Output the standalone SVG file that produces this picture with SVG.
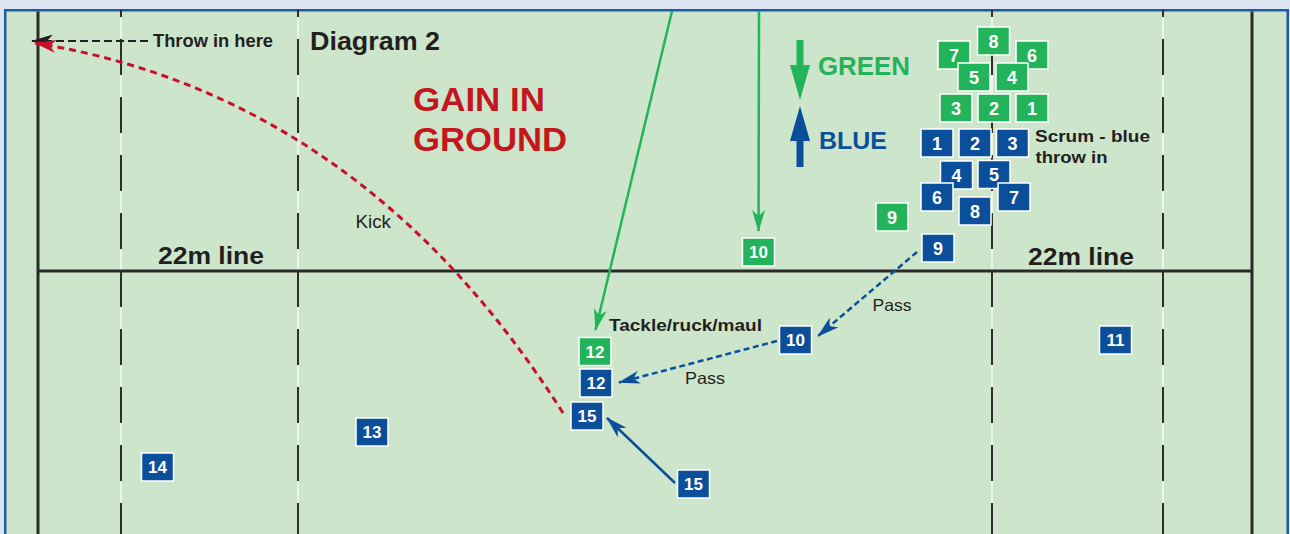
<svg xmlns="http://www.w3.org/2000/svg" width="1290" height="534" viewBox="0 0 1290 534">
<defs>
<style>
.t{font-family:"Liberation Sans",Arial,sans-serif;font-weight:bold;fill:#231f20}
.r{font-family:"Liberation Sans",Arial,sans-serif;font-weight:normal;fill:#231f20}
.num{font-family:"Liberation Sans",Arial,sans-serif;font-weight:bold;fill:#fff;text-anchor:middle;font-size:18px}
.num2{font-family:"Liberation Sans",Arial,sans-serif;font-weight:bold;fill:#fff;text-anchor:middle;font-size:17px}
.gb{fill:#23b35a;stroke:#fff;stroke-width:1.5}
.bb{fill:#0b4f9b;stroke:#fff;stroke-width:1.5}
.wl{stroke:#fff;stroke-width:1.2}
.dl{stroke:#2e2e2e;stroke-width:2;stroke-dasharray:36 22;stroke-dashoffset:29}
.solid{stroke:#2a2a2a;stroke-width:3}
</style>
<marker id="ahG" viewBox="0 0 22 13" refX="21" refY="6.5" markerWidth="22" markerHeight="13" markerUnits="userSpaceOnUse" orient="auto"><path d="M0,0 L22,6.5 L0,13 L6,6.5 Z" fill="#23b35a"/></marker>
<marker id="ahB" viewBox="0 0 22 13" refX="21" refY="6.5" markerWidth="22" markerHeight="13" markerUnits="userSpaceOnUse" orient="auto"><path d="M0,0 L22,6.5 L0,13 L6,6.5 Z" fill="#0b4f9b"/></marker>
<marker id="ahR" viewBox="0 0 22 13" refX="21" refY="6.5" markerWidth="22" markerHeight="13" markerUnits="userSpaceOnUse" orient="auto"><path d="M0,0 L22,6.5 L0,13 L6,6.5 Z" fill="#c8102e"/></marker>
<marker id="ahK" viewBox="0 0 22 13" refX="21" refY="6.5" markerWidth="22" markerHeight="13" markerUnits="userSpaceOnUse" orient="auto"><path d="M0,0 L22,6.5 L0,13 L6,6.5 Z" fill="#231f20"/></marker>
</defs>

<rect x="0" y="0" width="1290" height="534" fill="#dde4f2"/>
<rect x="5.25" y="10.25" width="1282.5" height="540" fill="#cde6cb" stroke="#1a5ca6" stroke-width="2.5"/>

<g id="field-lines">
<line class="wl" x1="121" y1="11.5" x2="121" y2="534"/>
<line class="wl" x1="298" y1="11.5" x2="298" y2="534"/>
<line class="wl" x1="992" y1="11.5" x2="992" y2="534"/>
<line class="wl" x1="1163" y1="11.5" x2="1163" y2="534"/>
<line class="dl" x1="121" y1="10" x2="121" y2="534"/>
<line class="dl" x1="298" y1="10" x2="298" y2="534"/>
<line class="dl" x1="992" y1="10" x2="992" y2="534"/>
<line class="dl" x1="1163" y1="10" x2="1163" y2="534"/>
<line class="solid" x1="38" y1="11.5" x2="38" y2="534"/>
<line class="solid" x1="1252" y1="11.5" x2="1252" y2="534"/>
<line class="solid" x1="38" y1="271" x2="1252" y2="271"/>
</g>

<g id="labels">
<text class="t" x="158" y="264" font-size="24" textLength="106" lengthAdjust="spacingAndGlyphs">22m line</text>
<text class="t" x="1028" y="265" font-size="24" textLength="106" lengthAdjust="spacingAndGlyphs">22m line</text>
<text class="t" x="153" y="47" font-size="18" textLength="120" lengthAdjust="spacingAndGlyphs">Throw in here</text>
<text class="t" x="310" y="50" font-size="25.5" textLength="130" lengthAdjust="spacingAndGlyphs">Diagram 2</text>
<text class="t" x="413" y="111" font-size="34" fill="#c4161c" style="fill:#c4161c" textLength="132" lengthAdjust="spacingAndGlyphs">GAIN IN</text>
<text class="t" x="413" y="151" font-size="34" style="fill:#c4161c" textLength="154" lengthAdjust="spacingAndGlyphs">GROUND</text>
<text class="t" x="818" y="75" font-size="25.5" style="fill:#23b35a" textLength="92" lengthAdjust="spacingAndGlyphs">GREEN</text>
<text class="t" x="819" y="149" font-size="24.5" style="fill:#0b4f9b" textLength="68" lengthAdjust="spacingAndGlyphs">BLUE</text>
<text class="t" x="1035" y="142" font-size="17" textLength="115" lengthAdjust="spacingAndGlyphs">Scrum - blue</text>
<text class="t" x="1035.5" y="163" font-size="17" textLength="72" lengthAdjust="spacingAndGlyphs">throw in</text>
<text class="r" x="355.5" y="228" font-size="18.5" textLength="35.5" lengthAdjust="spacingAndGlyphs">Kick</text>
<text class="r" x="685" y="384" font-size="16.5" textLength="40" lengthAdjust="spacingAndGlyphs">Pass</text>
<text class="r" x="872.5" y="311" font-size="16.5" textLength="39" lengthAdjust="spacingAndGlyphs">Pass</text>
<text class="t" x="609" y="331" font-size="16.5" textLength="153" lengthAdjust="spacingAndGlyphs">Tackle/ruck/maul</text>
</g>

<g id="legend">
<path d="M796.5,40 H803.5 V65 H810 L800,100 L790,65 H796.5 Z" fill="#23b35a"/>
<path d="M800,106 L810,141 H803.5 V167 H796.5 V141 H790 Z" fill="#0b4f9b"/>
</g>

<g id="connectors" fill="none">
<path d="M148,41 L32,41" stroke="#231f20" stroke-width="2.2" stroke-dasharray="8 4" marker-end="url(#ahK)"/>
<path d="M563,413 Q362,96 35,43" stroke="#c8102e" stroke-width="3" stroke-dasharray="7 5" marker-end="url(#ahR)"/>
<path d="M672,11 L595.5,330" stroke="#23b35a" stroke-width="2.5" marker-end="url(#ahG)"/>
<path d="M759,11 L758.5,231" stroke="#23b35a" stroke-width="2.5" marker-end="url(#ahG)"/>
<path d="M917,252 L818,336" stroke="#0b4f9b" stroke-width="2.5" stroke-dasharray="6 3.5" marker-end="url(#ahB)"/>
<path d="M777,341 L619,382.5" stroke="#0b4f9b" stroke-width="2.5" stroke-dasharray="6 3.5" marker-end="url(#ahB)"/>
<path d="M675,483 L607,418" stroke="#0b4f9b" stroke-width="2.5" marker-end="url(#ahB)"/>
</g>

<g id="green-8"><rect class="gb" x="977.5" y="27" width="32" height="28"/><text class="num" x="993.5" y="47.5">8</text></g>
<g id="green-7"><rect class="gb" x="938" y="41" width="32" height="28"/><text class="num" x="954" y="61.5">7</text></g>
<g id="green-6"><rect class="gb" x="1016" y="41" width="32" height="28"/><text class="num" x="1032" y="61.5">6</text></g>
<g id="green-5"><rect class="gb" x="958" y="63" width="32" height="28"/><text class="num" x="974" y="83.5">5</text></g>
<g id="green-4"><rect class="gb" x="996" y="63" width="32" height="28"/><text class="num" x="1012" y="83.5">4</text></g>
<g id="green-3"><rect class="gb" x="940" y="94" width="32" height="28"/><text class="num" x="956" y="114.5">3</text></g>
<g id="green-2"><rect class="gb" x="978" y="94" width="32" height="28"/><text class="num" x="994" y="114.5">2</text></g>
<g id="green-1"><rect class="gb" x="1016" y="94" width="32" height="28"/><text class="num" x="1032" y="114.5">1</text></g>
<g id="green-9"><rect class="gb" x="876" y="203" width="32" height="28"/><text class="num" x="892" y="223.5">9</text></g>
<g id="green-10"><rect class="gb" x="742.5" y="238" width="32" height="28"/><text class="num2" x="758.5" y="258">10</text></g>
<g id="green-12"><rect class="gb" x="579" y="337.5" width="32" height="28"/><text class="num2" x="595" y="357.5">12</text></g>

<g id="blue-1"><rect class="bb" x="921" y="129" width="32" height="28"/><text class="num" x="937" y="149.5">1</text></g>
<g id="blue-2"><rect class="bb" x="959" y="129" width="32" height="28"/><text class="num" x="975" y="149.5">2</text></g>
<g id="blue-3"><rect class="bb" x="996.5" y="129" width="32" height="28"/><text class="num" x="1012.5" y="149.5">3</text></g>
<g id="blue-4"><rect class="bb" x="940.5" y="161" width="32" height="28"/><text class="num" x="956.5" y="181.5">4</text></g>
<g id="blue-5"><rect class="bb" x="978" y="160.5" width="32" height="28"/><text class="num" x="994" y="181">5</text></g>
<g id="blue-6"><rect class="bb" x="921" y="183" width="32" height="28"/><text class="num" x="937" y="203.5">6</text></g>
<g id="blue-7"><rect class="bb" x="998" y="183" width="32" height="28"/><text class="num" x="1014" y="203.5">7</text></g>
<g id="blue-8"><rect class="bb" x="959" y="197" width="32" height="28"/><text class="num" x="975" y="217.5">8</text></g>
<g id="blue-9"><rect class="bb" x="922" y="234" width="32" height="28"/><text class="num" x="938" y="254.5">9</text></g>
<g id="blue-10"><rect class="bb" x="779.5" y="326" width="32" height="28"/><text class="num2" x="795.5" y="346">10</text></g>
<g id="blue-12"><rect class="bb" x="580" y="369" width="32" height="28"/><text class="num2" x="596" y="389">12</text></g>
<g id="blue-15-tackle"><rect class="bb" x="571" y="402" width="32" height="28"/><text class="num2" x="587" y="422">15</text></g>
<g id="blue-15"><rect class="bb" x="677.5" y="470" width="32" height="28"/><text class="num2" x="693.5" y="490">15</text></g>
<g id="blue-11"><rect class="bb" x="1099.5" y="326" width="32" height="28"/><text class="num2" x="1115.5" y="346">11</text></g>
<g id="blue-13"><rect class="bb" x="356" y="418" width="32" height="28"/><text class="num2" x="372" y="438">13</text></g>
<g id="blue-14"><rect class="bb" x="141.5" y="453" width="32" height="28"/><text class="num2" x="157.5" y="473">14</text></g>
</svg>
